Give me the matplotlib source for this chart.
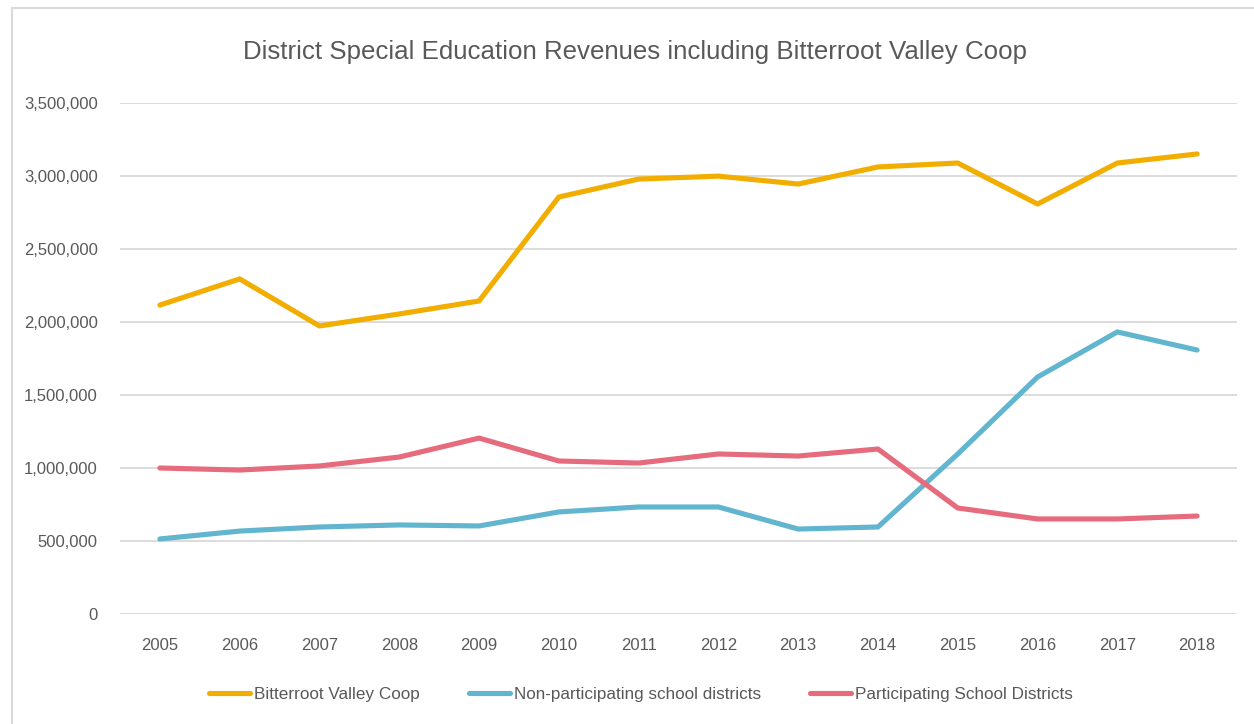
import matplotlib
matplotlib.use("Agg")
import matplotlib.pyplot as plt
from matplotlib.ticker import FuncFormatter, MultipleLocator
from matplotlib.patches import Rectangle

years = [2005, 2006, 2007, 2008, 2009, 2010, 2011, 2012, 2013, 2014, 2015, 2016, 2017, 2018]
coop = [2116000, 2295000, 1973000, 2055000, 2144000, 2856000, 2979000, 2999000, 2945000,
        3062000, 3089000, 2808000, 3089000, 3151000]
nonpart = [514000, 568000, 596000, 610000, 603000, 699000, 733000, 733000, 582000,
           596000, 1096000, 1623000, 1932000, 1808000]
part = [1000000, 986000, 1014000, 1075000, 1205000, 1048000, 1034000, 1096000, 1082000,
        1130000, 726000, 651000, 651000, 671000]
series_names = ["Bitterroot Valley Coop", "Non-participating school districts",
                "Participating School Districts"]
title = "District Special Education Revenues including Bitterroot Valley Coop"

plt.rcParams['font.family'] = ['Liberation Sans', 'DejaVu Sans']

W, H = 1254, 724
fig = plt.figure(figsize=(W / 100, H / 100), dpi=100)
ax = fig.add_axes([120 / W, 1 - 614 / H, (1237 - 120) / W, (614 - 103) / H])

colors = ["#F2AE00", "#62B5CF", "#E66B7D"]
x = list(range(len(years)))
for vals, c, name in zip([coop, nonpart, part], colors, series_names):
    ax.plot(x, vals, color=c, lw=3.7, solid_capstyle='round', solid_joinstyle='round', label=name)

ax.set_xlim(-0.5, len(years) - 0.5)
ax.set_ylim(0, 3500000)
ax.yaxis.set_major_locator(MultipleLocator(500000))
ax.yaxis.set_major_formatter(FuncFormatter(lambda v, p: f"{int(v):,}"))
ax.set_xticks(x)
ax.set_xticklabels([str(y) for y in years])
ax.grid(axis='y', color='#D9D9D9', lw=1.3)
ax.set_axisbelow(True)
for s in ax.spines.values():
    s.set_visible(False)
ax.tick_params(axis='both', length=0, labelsize=12, colors='#595959')
ax.tick_params(axis='x', pad=17)
ax.tick_params(axis='y', pad=16)

fig.text(635 / W, 1 - 52 / H, title, ha='center', va='center', fontsize=18.6, color='#595959')

leg = fig.legend(loc='center', bbox_to_anchor=(641 / W, 1 - 694 / H), ncol=3, frameon=False,
                 fontsize=12.3, handlelength=2.4, columnspacing=2.9, handletextpad=0.2)
for t in leg.get_texts():
    t.set_color('#595959')

fig.patches.append(Rectangle((12 / W, -0.01), 1.2, 1 - 8 / H + 0.01, transform=fig.transFigure,
                             fill=False, edgecolor='#D9D9D9', lw=1.5))

fig.savefig("out.png", dpi=100)
